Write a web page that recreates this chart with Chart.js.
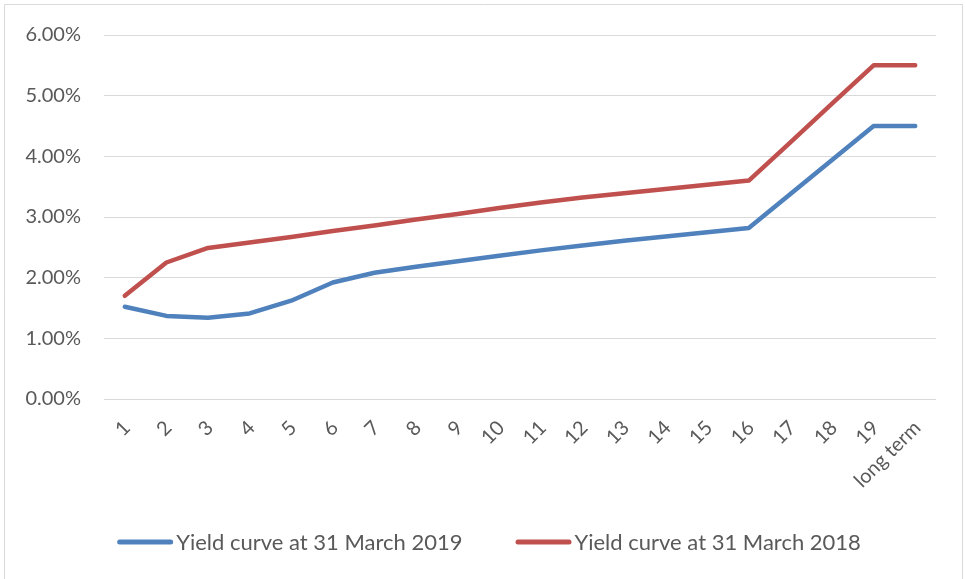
<!DOCTYPE html>
<html>
<head>
<meta charset="utf-8">
<script src="https://cdn.jsdelivr.net/npm/chart.js@4/dist/chart.umd.min.js"></script>
<style>
  html, body { margin: 0; padding: 0; background: #ffffff; }
  #wrap { width: 965px; height: 579px; }
</style>
</head>
<body>
<div id="wrap"><canvas id="c" width="965" height="579"></canvas></div>
<script>
// Maturity buckets (years) and yields in percent
const terms = ['1','2','3','4','5','6','7','8','9','10','11','12','13','14','15','16','17','18','19','long term'];
const yield2019 = [1.52, 1.37, 1.34, 1.41, 1.62, 1.92, 2.08, 2.18, 2.27, 2.36, 2.45, 2.53, 2.61, 2.68, 2.75, 2.82, 3.38, 3.94, 4.50, 4.50];
const yield2018 = [1.70, 2.25, 2.49, 2.58, 2.67, 2.77, 2.86, 2.96, 3.05, 3.15, 3.24, 3.32, 3.39, 3.46, 3.53, 3.60, 4.23, 4.87, 5.50, 5.50];
const yTickValues = [0, 1, 2, 3, 4, 5, 6];
const seriesNames = ['Yield curve at 31 March 2019', 'Yield curve at 31 March 2018'];

const BLUE = '#4F81BD';
const RED = '#C0504D';
const TEXT = '#595959';
const GRID = '#D9D9D9';
const FONT = 'Lato, "Open Sans", sans-serif';

// White background and thin frame around the chart
const framePlugin = {
  id: 'frame',
  beforeDraw(chart) {
    const ctx = chart.ctx;
    ctx.save();
    ctx.fillStyle = '#ffffff';
    ctx.fillRect(0, 0, chart.width, chart.height);
    ctx.strokeStyle = GRID;
    ctx.lineWidth = 1;
    ctx.beginPath();
    ctx.moveTo(4.5, chart.height + 2);
    ctx.lineTo(4.5, 4.5);
    ctx.lineTo(962.5, 4.5);
    ctx.lineTo(962.5, chart.height + 2);
    ctx.stroke();
    ctx.restore();
  }
};

// Legend below the axis: line sample followed closely by its label
const lineLegendPlugin = {
  id: 'lineLegend',
  afterDraw(chart) {
    const ctx = chart.ctx;
    const o = chart.options.plugins.lineLegend;
    ctx.save();
    ctx.font = o.fontSize + 'px ' + FONT;
    ctx.textBaseline = 'middle';
    ctx.textAlign = 'left';
    const items = chart.data.datasets.map(ds => ({
      text: ds.label, color: ds.borderColor, w: ctx.measureText(ds.label).width
    }));
    const total = items.reduce((s, it) => s + o.lineLen + o.gap + it.w, 0) + o.itemGap * (items.length - 1);
    let x = o.centerX - total / 2;
    items.forEach(it => {
      ctx.strokeStyle = it.color;
      ctx.lineWidth = 5;
      ctx.lineCap = 'round';
      ctx.beginPath();
      ctx.moveTo(x + 2.5, o.y);
      ctx.lineTo(x + o.lineLen - 2.5, o.y);
      ctx.stroke();
      ctx.fillStyle = TEXT;
      ctx.fillText(it.text, x + o.lineLen + o.gap, o.y + 1);
      x += o.lineLen + o.gap + it.w + o.itemGap;
    });
    ctx.restore();
  }
};

new Chart(document.getElementById('c'), {
  type: 'line',
  data: {
    labels: terms,
    datasets: [
      { label: seriesNames[0], data: yield2019, borderColor: BLUE, backgroundColor: BLUE,
        borderWidth: 4.5, pointRadius: 0, tension: 0, borderJoinStyle: 'round', borderCapStyle: 'round' },
      { label: seriesNames[1], data: yield2018, borderColor: RED, backgroundColor: RED,
        borderWidth: 4.5, pointRadius: 0, tension: 0, borderJoinStyle: 'round', borderCapStyle: 'round' }
    ]
  },
  options: {
    responsive: false,
    animation: false,
    devicePixelRatio: 1,
    layout: { padding: { top: 33, right: 29, left: 0, bottom: 80 } },
    plugins: {
      legend: { display: false },
      tooltip: { enabled: false },
      lineLegend: { y: 542, centerX: 489, lineLen: 56, gap: 3, itemGap: 53, fontSize: 22 }
    },
    scales: {
      x: {
        offset: true,
        grid: { display: false, drawTicks: false },
        border: { display: false },
        ticks: {
          autoSkip: false, minRotation: 45, maxRotation: 45,
          padding: 17, labelOffset: 2,
          color: TEXT, font: { family: FONT, size: 20 }
        },
        afterFit(axis) { axis.height = 100; }
      },
      y: {
        min: 0, max: 6,
        afterBuildTicks(axis) { axis.ticks = yTickValues.map(v => ({ value: v })); },
        grid: { color: GRID, lineWidth: 1, drawTicks: false },
        border: { display: false },
        ticks: {
          padding: 23, color: TEXT, font: { family: FONT, size: 20 },
          callback: v => v.toFixed(2) + '%'
        },
        afterFit(axis) { axis.width = 104; }
      }
    }
  },
  plugins: [framePlugin, lineLegendPlugin]
});
</script>
</body>
</html>
